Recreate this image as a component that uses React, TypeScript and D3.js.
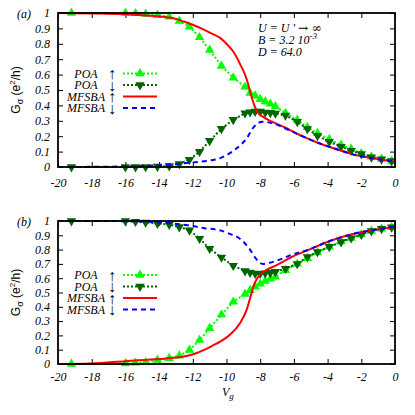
import React, { useEffect, useRef } from 'react';
import * as d3 from 'd3';

// gate voltage of the POA points (both panels)
const vgPOA = [-19.2, -16, -15.4, -14.8, -14.1, -13.4, -12.8, -12.2, -11.6, -11.0, -10.3, -9.6,
    -8.9, -8.6, -8.3, -8.0, -7.7, -7.4, -7.1, -6.5, -5.8, -5.2, -4.6, -3.9, -3.2, -2.6, -2.0, -1.4, -0.8, -0.2];

// panel (a)
const poaUpA = [1.0, 1.0, 0.998, 0.994, 0.987, 0.976, 0.948, 0.911, 0.842, 0.76, 0.656, 0.58,
    0.52, 0.48, 0.463, 0.44, 0.425, 0.41, 0.393, 0.35, 0.305, 0.258, 0.219, 0.18, 0.143, 0.117, 0.089, 0.067, 0.052, 0.039];
const poaDownA = [0, 0, 0, 0.001, 0.003, 0.006, 0.02, 0.047, 0.1, 0.17, 0.248, 0.307,
    0.35, 0.356, 0.36, 0.36, 0.355, 0.352, 0.348, 0.335, 0.294, 0.247, 0.203, 0.164, 0.132, 0.106, 0.084, 0.063, 0.05, 0.039];
const vgMfUpA = [-20, -18, -16, -15, -14, -13, -12.3, -11.5, -10.9, -10.4, -10, -9.6, -9.2, -8.8, -8.55, -8.35,
    -8.15, -7.85, -7.3, -6.5, -5.5, -4.5, -3.5, -2.5, -1.5, -0.5, 0];
const mfUpA = [1.0, 0.997, 0.992, 0.986, 0.978, 0.962, 0.935, 0.9, 0.868, 0.84, 0.8, 0.75, 0.67, 0.57, 0.47, 0.4,
    0.355, 0.327, 0.294, 0.255, 0.2, 0.154, 0.117, 0.082, 0.06, 0.043, 0.037];
const vgMfDownA = [-20, -18, -16, -14, -13, -12, -11, -10.4, -9.8, -9.2, -8.8, -8.45, -8.15, -7.85, -7.3, -6.5,
    -5.5, -4.5, -3.5, -2.5, -1.5, -0.5, 0];
const mfDownA = [0, 0.001, 0.004, 0.012, 0.02, 0.03, 0.042, 0.056, 0.09, 0.14, 0.186, 0.25, 0.284, 0.294, 0.285, 0.25,
    0.2, 0.154, 0.117, 0.082, 0.06, 0.043, 0.037];

// panel (b)
const poaUpB = [0, 0.003, 0.008, 0.012, 0.028, 0.04, 0.058, 0.098, 0.167, 0.25, 0.345, 0.435,
    0.49, 0.516, 0.54, 0.56, 0.58, 0.595, 0.61, 0.656, 0.7, 0.74, 0.78, 0.82, 0.857, 0.88, 0.905, 0.93, 0.946, 0.956];
const poaDownB = [1.0, 1.0, 0.995, 0.99, 0.982, 0.975, 0.958, 0.935, 0.877, 0.807, 0.745, 0.688,
    0.65, 0.64, 0.633, 0.632, 0.635, 0.638, 0.645, 0.667, 0.7, 0.749, 0.784, 0.82, 0.853, 0.88, 0.905, 0.93, 0.946, 0.956];
const vgMfUpB = [-20, -18, -16, -14, -13, -12.3, -11.8, -11.3, -10.8, -10.4, -9.8, -9.2, -8.8, -8.55, -8.35, -8.05,
    -7.65, -7.05, -6.1, -5.1, -4.1, -3.1, -2.1, -1.1, 0];
const mfUpB = [0, 0.004, 0.02, 0.035, 0.045, 0.058, 0.075, 0.1, 0.13, 0.155, 0.205, 0.285, 0.38, 0.48, 0.56, 0.62,
    0.656, 0.69, 0.75, 0.8, 0.85, 0.89, 0.92, 0.94, 0.96];
const vgMfDownB = [-20, -16, -14, -12.3, -11.3, -10.4, -9.8, -9.2, -8.65, -8.25, -7.85, -7.45, -6.85,
    -6.1, -5.1, -4.1, -3.1, -2.1, -1.1, 0];
const mfDownB = [1.0, 0.999, 0.99, 0.97, 0.95, 0.935, 0.91, 0.876, 0.807, 0.737, 0.7, 0.708, 0.73,
    0.765, 0.8, 0.85, 0.89, 0.92, 0.94, 0.96];

const xTicks = [-20, -18, -16, -14, -12, -10, -8, -6, -4, -2, 0];
const yTicks = [0, 0.1, 0.2, 0.3, 0.4, 0.5, 0.6, 0.7, 0.8, 0.9, 1];
const legendLabels = ['POA', 'POA', 'MFSBA', 'MFSBA'];
const legendArrows = ['\u2191', '\u2193', '\u2191', '\u2193'];

const serif = '"Liberation Serif", "DejaVu Serif", serif';
const sans = '"Liberation Sans", "DejaVu Sans", sans-serif';
const lightGreen = '#00ff00';
const darkGreen = '#006400';

function zip(xs: number[], ys: number[]): [number, number][] {
    return xs.map((v, i) => [v, ys[i]]);
}

function drawPanel(svg: any, p: any) {
    const x = d3.scaleLinear().domain([-20, 0]).range([58, 395]);
    const y = d3.scaleLinear().domain([0, 1]).range([p.bottom, p.top]);
    const g = svg.append('g');

    // axes, ticks pointing inwards on all four sides
    const bottomAxis = g.append('g')
        .attr('transform', 'translate(0,' + p.bottom + ')')
        .call(d3.axisBottom(x).tickValues(xTicks).tickSize(-5).tickSizeOuter(0).tickPadding(p.xPad)
            .tickFormat((d: any) => String(d)));
    g.append('g')
        .attr('transform', 'translate(0,' + p.top + ')')
        .call(d3.axisTop(x).tickValues(xTicks).tickSize(-5).tickSizeOuter(0).tickFormat(() => ''));
    const leftAxis = g.append('g')
        .attr('transform', 'translate(58,0)')
        .call(d3.axisLeft(y).tickValues(yTicks).tickSize(-5).tickSizeOuter(0).tickPadding(8)
            .tickFormat((d: any) => String(d)));
    g.append('g')
        .attr('transform', 'translate(395,0)')
        .call(d3.axisRight(y).tickValues(yTicks).tickSize(-5).tickSizeOuter(0).tickFormat(() => ''));
    g.selectAll('.domain').remove();
    g.selectAll('.tick line').attr('stroke', '#000').attr('stroke-width', 1);
    [bottomAxis, leftAxis].forEach((a) => {
        a.selectAll('text')
            .attr('font-family', serif)
            .attr('font-style', 'italic')
            .attr('font-size', 12)
            .attr('fill', '#000');
    });

    const line = d3.line<[number, number]>()
        .x((d) => x(d[0]))
        .y((d) => y(d[1]));
    const smooth = d3.line<[number, number]>()
        .x((d) => x(d[0]))
        .y((d) => y(d[1]))
        .curve(d3.curveMonotoneX);

    const tri = d3.symbol().type(d3.symbolTriangle).size(38);

    // POA spin up
    const upPts = zip(vgPOA, p.poaUp);
    g.append('path').attr('d', line(upPts)).attr('fill', 'none')
        .attr('stroke', lightGreen).attr('stroke-width', 2).attr('stroke-dasharray', '2,2');
    g.selectAll('.up').data(upPts).enter().append('path')
        .attr('class', 'up')
        .attr('d', tri())
        .attr('transform', (d: any) => 'translate(' + x(d[0]) + ',' + y(d[1]) + ')')
        .attr('fill', lightGreen);

    // POA spin down
    const downPts = zip(vgPOA, p.poaDown);
    g.append('path').attr('d', line(downPts)).attr('fill', 'none')
        .attr('stroke', darkGreen).attr('stroke-width', 2).attr('stroke-dasharray', '2,2');
    g.selectAll('.down').data(downPts).enter().append('path')
        .attr('class', 'down')
        .attr('d', tri())
        .attr('transform', (d: any) => 'translate(' + x(d[0]) + ',' + y(d[1]) + ') rotate(180)')
        .attr('fill', darkGreen);

    // MFSBA
    g.append('path').attr('d', smooth(zip(p.vgMfUp, p.mfUp))).attr('fill', 'none')
        .attr('stroke', '#ff0000').attr('stroke-width', 2);
    g.append('path').attr('d', smooth(zip(p.vgMfDown, p.mfDown))).attr('fill', 'none')
        .attr('stroke', '#0000ff').attr('stroke-width', 2).attr('stroke-dasharray', '5,4');

    // frame
    g.append('rect')
        .attr('x', 58).attr('y', p.top)
        .attr('width', 395 - 58).attr('height', p.bottom - p.top)
        .attr('fill', 'none').attr('stroke', '#000').attr('stroke-width', 1.8);

    // panel tag
    g.append('text')
        .attr('x', 17).attr('y', p.top + 5)
        .attr('font-family', serif).attr('font-style', 'italic').attr('font-size', 12)
        .text(p.tag);

    // y label
    const yl = g.append('text')
        .attr('transform', 'translate(20,' + (p.top + p.bottom) / 2 + ') rotate(-90)')
        .attr('text-anchor', 'middle')
        .attr('font-family', sans).attr('font-size', 12);
    yl.append('tspan').text('G');
    yl.append('tspan').attr('font-size', 9).attr('dy', 3).text('\u03c3');
    yl.append('tspan').attr('dy', -3).text(' (e');
    yl.append('tspan').attr('font-size', 8).attr('dy', -5).text('2');
    yl.append('tspan').attr('dy', 5).text('/h)');

    // legend
    const styles = [
        { color: lightGreen, dash: '2,2', marker: 'up' },
        { color: darkGreen, dash: '2,2', marker: 'down' },
        { color: '#ff0000', dash: null, marker: null },
        { color: '#0000ff', dash: '5,4', marker: null },
    ];
    legendLabels.forEach((label, i) => {
        const ly = p.legendY[i];
        g.append('text')
            .attr('x', 86).attr('y', ly + 4)
            .attr('text-anchor', 'middle')
            .attr('font-family', serif).attr('font-style', 'italic').attr('font-size', 12)
            .text(label);
        g.append('text')
            .attr('x', 112).attr('y', ly + 5.5)
            .attr('text-anchor', 'middle')
            .attr('font-family', serif).attr('font-size', 16)
            .text(legendArrows[i]);
        const s = styles[i];
        const l = g.append('line')
            .attr('x1', 123).attr('x2', 157).attr('y1', ly).attr('y2', ly)
            .attr('stroke', s.color).attr('stroke-width', 2);
        if (s.dash) l.attr('stroke-dasharray', s.dash);
        if (s.marker) {
            g.append('path')
                .attr('d', tri())
                .attr('transform', 'translate(140,' + ly + ')' + (s.marker === 'down' ? ' rotate(180)' : ''))
                .attr('fill', s.color);
        }
    });
}

export default function App() {
    const ref = useRef<SVGSVGElement>(null);

    useEffect(() => {
        const svg = d3.select(ref.current);
        svg.selectAll('*').remove();

        drawPanel(svg, {
            top: 13, bottom: 167, xPad: 11, tag: '(a)',
            legendY: [73.5, 85, 96.5, 108],
            poaUp: poaUpA, poaDown: poaDownA,
            vgMfUp: vgMfUpA, mfUp: mfUpA, vgMfDown: vgMfDownA, mfDown: mfDownA,
        });
        drawPanel(svg, {
            top: 221, bottom: 364, xPad: 8, tag: '(b)',
            legendY: [275, 286.5, 298, 309.5],
            poaUp: poaUpB, poaDown: poaDownB,
            vgMfUp: vgMfUpB, mfUp: mfUpB, vgMfDown: vgMfDownB, mfDown: mfDownB,
        });

        // text box, panel (a)
        const info = svg.append('g')
            .attr('font-family', serif).attr('font-style', 'italic').attr('font-size', 12);
        const u = info.append('text').attr('x', 258).attr('y', 32);
        u.append('tspan').text("U = U ' ");
        u.append('tspan').attr('font-family', '"DejaVu Serif", serif').attr('font-style', 'normal')
            .attr('font-size', 12).text('\u2192 \u221e');
        const b = info.append('text').attr('x', 258).attr('y', 44);
        b.append('tspan').text('B = 3.2 10');
        b.append('tspan').attr('font-size', 9).attr('dy', -5).text('-3');
        info.append('text').attr('x', 258).attr('y', 56).text('D = 64.0');

        // x label
        const xl = svg.append('text')
            .attr('x', 222).attr('y', 396)
            .attr('font-family', serif).attr('font-style', 'italic').attr('font-size', 12);
        xl.append('tspan').text('V');
        xl.append('tspan').attr('font-size', 9).attr('dy', 3).text('g');
    }, []);

    return (
        <svg ref={ref} width={415} height={415}
             style={{ position: 'absolute', left: 0, top: 0, background: '#fff' }} />
    );
}
